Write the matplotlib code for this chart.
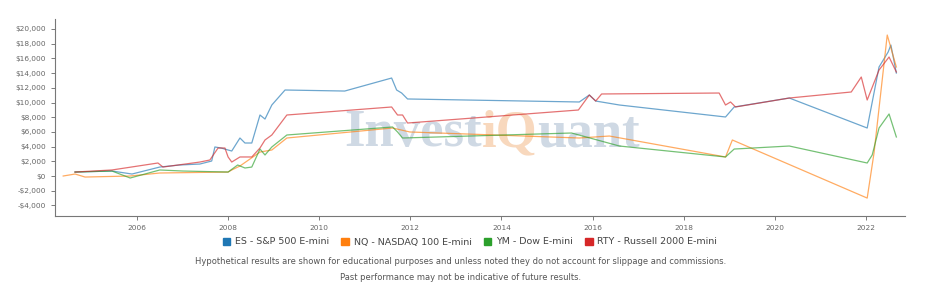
import matplotlib
matplotlib.use("Agg")
import matplotlib.pyplot as plt
from matplotlib.patches import Patch
from matplotlib.ticker import FuncFormatter

# equity curves (year, dollars)
es_x = [2004.64, 2005.45, 2005.89, 2006.50, 2006.94, 2007.38, 2007.64, 2007.71, 2007.85, 2008.08,
        2008.26, 2008.37, 2008.52, 2008.70, 2008.81, 2008.96, 2009.25, 2010.56, 2011.59, 2011.70,
        2011.81, 2011.94, 2015.71, 2015.93, 2016.07, 2016.59, 2018.92, 2019.11, 2020.32, 2022.03,
        2022.29, 2022.49, 2022.55, 2022.67]
es_y = [540, 680, 270, 1220, 1500, 1630, 2040, 3950, 3800, 3400,
        5170, 4490, 4490, 8300, 7750, 9660, 11700, 11560, 13330, 11700,
        11290, 10480, 10070, 11020, 10200, 9660, 8030, 9390, 10610, 6530,
        14830, 16870, 17820, 14010]

nq_x = [2004.38, 2004.64, 2004.86, 2005.85, 2006.50, 2008.00, 2008.08, 2008.26, 2008.70, 2008.96,
        2009.29, 2011.61, 2011.99, 2015.71, 2016.37, 2018.92, 2019.07, 2022.03, 2022.18, 2022.47,
        2022.67]
nq_y = [0, 270, -140, 0, 410, 540, 820, 1360, 3260, 3540,
        5170, 6530, 5990, 5170, 5440, 2590, 4900, -3000, 3130, 19180,
        14830]

ym_x = [2004.64, 2005.45, 2005.85, 2006.50, 2007.00, 2008.00, 2008.21, 2008.37, 2008.52, 2008.70,
        2008.81, 2008.96, 2009.29, 2011.61, 2011.72, 2011.83, 2015.54, 2016.59, 2018.92, 2019.11,
        2020.32, 2022.03, 2022.14, 2022.29, 2022.51, 2022.67]
ym_y = [540, 680, -270, 820, 680, 540, 1500, 1090, 1220, 3670,
        2860, 3950, 5580, 6670, 5990, 5170, 5850, 4080, 2590, 3670,
        4080, 1770, 2860, 6530, 8440, 5310]

rty_x = [2004.64, 2005.45, 2006.46, 2006.57, 2007.38, 2007.60, 2007.78, 2007.93, 2008.00, 2008.08,
         2008.26, 2008.52, 2008.70, 2008.81, 2008.96, 2009.29, 2011.59, 2011.72, 2011.83, 2011.94,
         2015.69, 2015.93, 2016.07, 2016.20, 2018.78, 2018.92, 2019.03, 2019.14, 2020.32, 2021.68,
         2021.90, 2022.03, 2022.29, 2022.51, 2022.67]
rty_y = [540, 820, 1770, 1220, 1900, 2180, 3810, 3810, 2590, 1900,
         2590, 2590, 3810, 4900, 5580, 8300, 9390, 8300, 8300, 7210,
         8980, 11020, 10200, 11160, 11290, 9660, 10070, 9390, 10610, 11430,
         13470, 10340, 14420, 16190, 14150]

names = ["ES - S&P 500 E-mini", "NQ - NASDAQ 100 E-mini", "YM - Dow E-mini", "RTY - Russell 2000 E-mini"]
colors = ["#1f77b4", "#ff7f0e", "#2ca02c", "#d62728"]
series = [(es_x, es_y), (nq_x, nq_y), (ym_x, ym_y), (rty_x, rty_y)]

fig = plt.figure(figsize=(9.4, 2.87), dpi=100)
ax = fig.add_axes([55 / 940, 1 - 216 / 287, 850 / 940, 197 / 287])
ax.set_xlim(2004.2, 2022.86)
ax.set_ylim(-5440, 21360)

# watermark, three pieces laid side by side
fig.canvas.draw()
r = fig.canvas.get_renderer()
wm_x, wm_y = 2010.55, 5800
wm_kw = dict(fontsize=38, family="Liberation Serif", fontweight="bold", va="center", ha="left", zorder=0)
for piece, c in [("Invest", "#cfd9e4"), ("iQ", "#f8d8bd"), ("uant", "#cfd9e4")]:
    t = ax.text(wm_x, wm_y, piece, color=c, **wm_kw)
    wm_x = t.get_window_extent(r).transformed(ax.transData.inverted()).x1

for (xs, ys), c in zip(series, colors):
    ax.plot(xs, ys, color=c, lw=0.9, alpha=0.65, zorder=2)

ax.set_xticks(range(2006, 2023, 2))
ax.set_yticks(range(-4000, 20001, 2000))
ax.yaxis.set_major_formatter(FuncFormatter(lambda v, p: ("-$" if v < 0 else "$") + f"{abs(int(v)):,}"))

for s in ["top", "right"]:
    ax.spines[s].set_visible(False)
for s in ["left", "bottom"]:
    ax.spines[s].set_color("#777777")
    ax.spines[s].set_linewidth(0.8)
ax.tick_params(axis="both", labelsize=5.3, colors="#666666", length=3, width=0.6)

handles = [Patch(facecolor=c, edgecolor=c) for c in colors]
fig.legend(handles, names, loc="center", bbox_to_anchor=(0.5, 1 - 242 / 287), ncol=4,
           frameon=False, fontsize=6.8, handlelength=0.8, handleheight=0.8,
           handletextpad=0.5, columnspacing=1.3, labelcolor="#444444")

fig.text(0.49, 1 - 262 / 287, "Hypothetical results are shown for educational purposes and unless noted "
         "they do not account for slippage and commissions.", ha="center", va="center",
         fontsize=6.0, color="#555555")
fig.text(0.49, 1 - 278 / 287, "Past performance may not be indicative of future results.",
         ha="center", va="center", fontsize=6.0, color="#555555")

fig.savefig("out.png", dpi=100)
